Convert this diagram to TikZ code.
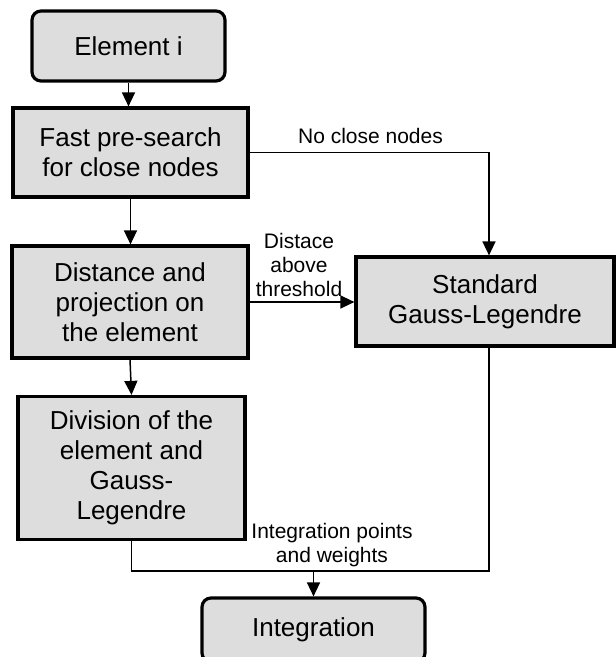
\documentclass[tikz,border=0pt]{standalone}
\usepackage{fontspec}
\setmainfont{Liberation Sans}
\usetikzlibrary{arrows.meta,calc}
\definecolor{boxgray}{RGB}{221,221,221}
\begin{document}
\begin{tikzpicture}[x=1pt,y=-1pt,
  boxstyle/.style={draw=black,fill=boxgray,line width=3.2pt,align=center,
    inner sep=0pt,font=\fontsize{26}{30}\selectfont},
  roundbox/.style={boxstyle,rounded corners=9pt},
  conn/.style={line width=1.5pt,-{Triangle[length=14pt,width=13pt]}},
  plain/.style={line width=1.5pt},
  lbl/.style={align=center,inner sep=0pt,font=\fontsize{21}{24}\selectfont}]
\useasboundingbox (0,0) rectangle (616,657);
\begin{scope}
\clip (0,0) rectangle (616,657);
\node[roundbox,minimum width=193pt,minimum height=70pt] (elem) at (128.5,46) {Element i};
\node[boxstyle,minimum width=235pt,minimum height=89pt] (fast) at (130.5,152.5) {Fast pre-search\\for close nodes};
\node[boxstyle,minimum width=236pt,minimum height=112pt] (dist) at (130,302) {Distance and\\projection on\\the element};
\node[boxstyle,minimum width=258pt,minimum height=89pt] (std) at (485,301.5) {Standard\\Gauss-Legendre};
\node[boxstyle,minimum width=227pt,minimum height=143pt] (div) at (131.5,468) {Division of the\\element and\\Gauss-\\Legendre};
\node[roundbox,minimum width=223pt,minimum height=64pt] (integ) at (313.5,630) {Integration};

\node[lbl] (lno) at (370.5,136) {No close nodes};
\node[lbl] (ldist) at (299,265) {Distace\\above\\threshold};
\node[lbl] (lint) at (332,545) {Integration points\\and weights};

\coordinate (j) at (313.5,571);
\coordinate (stdtop) at ([xshift=4pt]std.north);
\coordinate (stdbot) at ([xshift=4pt]std.south);

\draw[conn] (elem.south) -- (elem.south |- fast.north);
\draw[conn] (fast.south) -- (fast.south |- dist.north);
\draw[conn] (dist.south) -- (div.north);
\draw[conn] (fast.east) -| (stdtop);
\draw[conn] (dist.east) -- (dist.east -| std.west);
\draw[plain] (div.south) |- (j);
\draw[plain] (stdbot) |- (j);
\draw[conn] (j) -- (integ.north);
\end{scope}
\end{tikzpicture}
\end{document}
